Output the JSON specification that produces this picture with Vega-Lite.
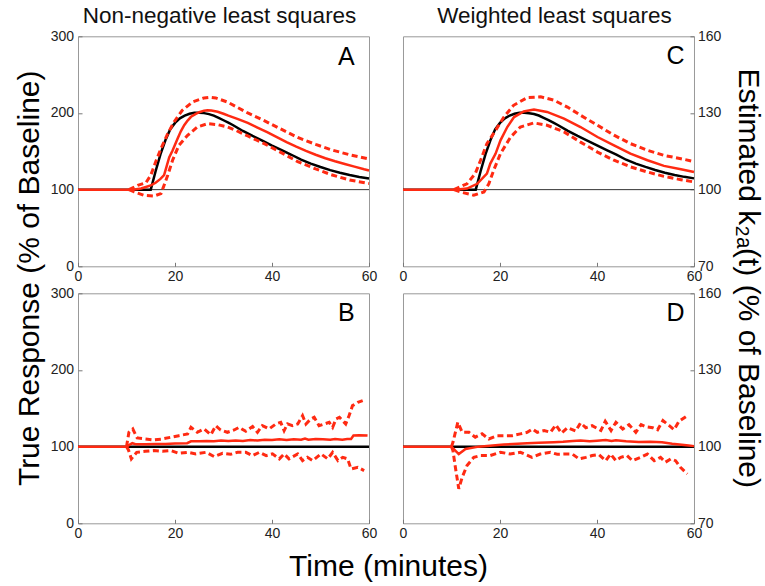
{
"$schema":"https://vega.github.io/schema/vega-lite/v6.json",
"background":"white",
"padding":{"left":13,"top":4.3,"right":5,"bottom":5},
"bounds":"flush",
"columns":2,
"spacing":{"row":27,"column":34},
"datasets":{
"A":[
{"t":0,"v":100,"s":"true"},{"t":15,"v":100,"s":"true"},{"t":16,"v":124,"s":"true"},{"t":17,"v":146,"s":"true"},{"t":18,"v":164,"s":"true"},{"t":19,"v":178.5,"s":"true"},{"t":20,"v":187,"s":"true"},{"t":21,"v":193,"s":"true"},{"t":22,"v":196.5,"s":"true"},{"t":23,"v":199,"s":"true"},{"t":24,"v":200.2,"s":"true"},{"t":25,"v":200.4,"s":"true"},{"t":26,"v":199.8,"s":"true"},{"t":27,"v":198.5,"s":"true"},{"t":28,"v":196.5,"s":"true"},{"t":29,"v":193.7,"s":"true"},{"t":30,"v":190.5,"s":"true"},{"t":31,"v":187.3,"s":"true"},{"t":32,"v":184,"s":"true"},{"t":34,"v":176.5,"s":"true"},{"t":36,"v":170,"s":"true"},{"t":38,"v":164,"s":"true"},{"t":40,"v":157.5,"s":"true"},{"t":42,"v":151.5,"s":"true"},{"t":44,"v":145.5,"s":"true"},{"t":46,"v":139,"s":"true"},{"t":48,"v":134,"s":"true"},{"t":50,"v":129.5,"s":"true"},{"t":52,"v":125.5,"s":"true"},{"t":54,"v":122,"s":"true"},{"t":56,"v":119,"s":"true"},{"t":58,"v":116.5,"s":"true"},{"t":60,"v":114.5,"s":"true"},
{"t":0,"v":100,"s":"est"},{"t":10.5,"v":100,"s":"est"},{"t":12,"v":100.5,"s":"est"},{"t":13,"v":101.5,"s":"est"},{"t":14,"v":103.5,"s":"est"},{"t":15,"v":105.6,"s":"est"},{"t":16,"v":109,"s":"est"},{"t":17,"v":114,"s":"est"},{"t":17.75,"v":119,"s":"est"},{"t":18.3,"v":131,"s":"est"},{"t":18.8,"v":142,"s":"est"},{"t":19.5,"v":151,"s":"est"},{"t":20.5,"v":166,"s":"est"},{"t":21.2,"v":176,"s":"est"},{"t":21.9,"v":184,"s":"est"},{"t":22.6,"v":190,"s":"est"},{"t":23.3,"v":195,"s":"est"},{"t":24.2,"v":198.5,"s":"est"},{"t":25,"v":201,"s":"est"},{"t":26,"v":203,"s":"est"},{"t":26.7,"v":203.5,"s":"est"},{"t":27.5,"v":203.2,"s":"est"},{"t":28.8,"v":201.5,"s":"est"},{"t":30,"v":199,"s":"est"},{"t":31,"v":196.5,"s":"est"},{"t":33,"v":192,"s":"est"},{"t":35,"v":187,"s":"est"},{"t":37,"v":181,"s":"est"},{"t":39,"v":175,"s":"est"},{"t":41,"v":168.5,"s":"est"},{"t":43,"v":162,"s":"est"},{"t":45,"v":156,"s":"est"},{"t":47,"v":150.5,"s":"est"},{"t":49,"v":145.5,"s":"est"},{"t":51,"v":141,"s":"est"},{"t":53,"v":137,"s":"est"},{"t":55,"v":133.5,"s":"est"},{"t":57,"v":130,"s":"est"},{"t":59,"v":126.5,"s":"est"},{"t":60,"v":125,"s":"est"},
{"t":10.5,"v":100,"s":"hi"},{"t":12.3,"v":105.6,"s":"hi"},{"t":14,"v":109,"s":"hi"},{"t":15,"v":118.7,"s":"hi"},{"t":16,"v":136,"s":"hi"},{"t":17.1,"v":153.5,"s":"hi"},{"t":18.5,"v":173,"s":"hi"},{"t":19.8,"v":188.3,"s":"hi"},{"t":21.5,"v":203.5,"s":"hi"},{"t":23.6,"v":214.3,"s":"hi"},{"t":26,"v":219.6,"s":"hi"},{"t":27.2,"v":220.5,"s":"hi"},{"t":28.4,"v":219.6,"s":"hi"},{"t":30.8,"v":214.3,"s":"hi"},{"t":32.5,"v":208.5,"s":"hi"},{"t":35,"v":200,"s":"hi"},{"t":38.4,"v":190,"s":"hi"},{"t":42,"v":178.5,"s":"hi"},{"t":45.3,"v":168,"s":"hi"},{"t":49,"v":159,"s":"hi"},{"t":52.2,"v":152,"s":"hi"},{"t":56,"v":145.5,"s":"hi"},{"t":60,"v":140,"s":"hi"},
{"t":10.5,"v":100,"s":"lo"},{"t":11.6,"v":97,"s":"lo"},{"t":13.6,"v":92.6,"s":"lo"},{"t":15.7,"v":91.7,"s":"lo"},{"t":17.1,"v":94.8,"s":"lo"},{"t":17.75,"v":105.6,"s":"lo"},{"t":18.5,"v":118.7,"s":"lo"},{"t":19.5,"v":138.3,"s":"lo"},{"t":20.8,"v":157.8,"s":"lo"},{"t":22.6,"v":170.9,"s":"lo"},{"t":24.6,"v":181.7,"s":"lo"},{"t":26.7,"v":186,"s":"lo"},{"t":28.8,"v":184.8,"s":"lo"},{"t":30.8,"v":181.7,"s":"lo"},{"t":32.5,"v":177.4,"s":"lo"},{"t":35,"v":170,"s":"lo"},{"t":38.4,"v":160,"s":"lo"},{"t":42,"v":148,"s":"lo"},{"t":45.3,"v":136.5,"s":"lo"},{"t":49,"v":127,"s":"lo"},{"t":52.2,"v":119.5,"s":"lo"},{"t":56,"v":112.5,"s":"lo"},{"t":60,"v":108,"s":"lo"}
],
"B":[
{"t":0,"v":100,"s":"true"},{"t":60,"v":100,"s":"true"},
{"t":0,"v":100,"s":"est"},{"t":10,"v":100,"s":"est"},{"t":10.5,"v":102,"s":"est"},{"t":11.2,"v":104.5,"s":"est"},{"t":12,"v":103,"s":"est"},{"t":14,"v":103,"s":"est"},{"t":16,"v":103.5,"s":"est"},{"t":18,"v":103.5,"s":"est"},{"t":20,"v":104,"s":"est"},{"t":22.5,"v":104.5,"s":"est"},{"t":23.3,"v":107,"s":"est"},{"t":25,"v":107,"s":"est"},{"t":26.5,"v":107.5,"s":"est"},{"t":28,"v":107,"s":"est"},{"t":29.5,"v":108,"s":"est"},{"t":31,"v":107.5,"s":"est"},{"t":32.5,"v":108,"s":"est"},{"t":34,"v":107.5,"s":"est"},{"t":35.5,"v":108.5,"s":"est"},{"t":37,"v":108,"s":"est"},{"t":38.5,"v":109,"s":"est"},{"t":40,"v":108.5,"s":"est"},{"t":41.5,"v":109.5,"s":"est"},{"t":43,"v":108.5,"s":"est"},{"t":44.5,"v":109.5,"s":"est"},{"t":46,"v":109,"s":"est"},{"t":46.8,"v":110.5,"s":"est"},{"t":47.5,"v":109,"s":"est"},{"t":49,"v":110,"s":"est"},{"t":50.5,"v":109.5,"s":"est"},{"t":52,"v":109,"s":"est"},{"t":53,"v":110,"s":"est"},{"t":54.5,"v":109,"s":"est"},{"t":55.5,"v":110,"s":"est"},{"t":56.3,"v":110,"s":"est"},{"t":56.8,"v":114.5,"s":"est"},{"t":58,"v":115,"s":"est"},{"t":59.7,"v":114.5,"s":"est"},
{"t":10,"v":100,"s":"hi"},{"t":10.5,"v":118.7,"s":"hi"},{"t":11.3,"v":123,"s":"hi"},{"t":12.2,"v":111.3,"s":"hi"},{"t":13.9,"v":110,"s":"hi"},{"t":15.6,"v":108.7,"s":"hi"},{"t":17.4,"v":110,"s":"hi"},{"t":19.1,"v":112.2,"s":"hi"},{"t":20.8,"v":114.3,"s":"hi"},{"t":22.6,"v":116.5,"s":"hi"},{"t":23.3,"v":125.2,"s":"hi"},{"t":24.6,"v":118.7,"s":"hi"},{"t":26,"v":123,"s":"hi"},{"t":27.4,"v":115.6,"s":"hi"},{"t":28.4,"v":127.4,"s":"hi"},{"t":29.4,"v":121.7,"s":"hi"},{"t":30.8,"v":118.7,"s":"hi"},{"t":32.2,"v":121.7,"s":"hi"},{"t":33.2,"v":125.2,"s":"hi"},{"t":34.6,"v":120,"s":"hi"},{"t":36,"v":126.1,"s":"hi"},{"t":37,"v":118.7,"s":"hi"},{"t":38,"v":127.4,"s":"hi"},{"t":39.4,"v":123.1,"s":"hi"},{"t":40.8,"v":129.6,"s":"hi"},{"t":41.8,"v":131.7,"s":"hi"},{"t":42.5,"v":120.9,"s":"hi"},{"t":43.2,"v":129.6,"s":"hi"},{"t":44.2,"v":127.4,"s":"hi"},{"t":45.3,"v":129.6,"s":"hi"},{"t":46.3,"v":140.5,"s":"hi"},{"t":47,"v":129.6,"s":"hi"},{"t":48,"v":136.1,"s":"hi"},{"t":48.7,"v":138.3,"s":"hi"},{"t":49.7,"v":127.4,"s":"hi"},{"t":50.8,"v":129.6,"s":"hi"},{"t":51.8,"v":131.7,"s":"hi"},{"t":52.5,"v":125.2,"s":"hi"},{"t":53.2,"v":136.1,"s":"hi"},{"t":53.9,"v":138.3,"s":"hi"},{"t":55.2,"v":129.6,"s":"hi"},{"t":55.9,"v":140.5,"s":"hi"},{"t":56.6,"v":153.5,"s":"hi"},{"t":57.7,"v":157.8,"s":"hi"},{"t":58.7,"v":160,"s":"hi"},
{"t":10,"v":100,"s":"lo"},{"t":10.4,"v":95.7,"s":"lo"},{"t":11,"v":84,"s":"lo"},{"t":12.1,"v":92.6,"s":"lo"},{"t":13.9,"v":93.9,"s":"lo"},{"t":15.6,"v":94.8,"s":"lo"},{"t":17.4,"v":93.9,"s":"lo"},{"t":19.2,"v":94.8,"s":"lo"},{"t":20.8,"v":91.3,"s":"lo"},{"t":22.6,"v":92.6,"s":"lo"},{"t":24.3,"v":90.5,"s":"lo"},{"t":26.4,"v":92.6,"s":"lo"},{"t":28.1,"v":86.9,"s":"lo"},{"t":29.8,"v":91.3,"s":"lo"},{"t":31.5,"v":90,"s":"lo"},{"t":32.9,"v":92.6,"s":"lo"},{"t":34.6,"v":92.6,"s":"lo"},{"t":36,"v":88.3,"s":"lo"},{"t":37.4,"v":92.6,"s":"lo"},{"t":38.8,"v":88.3,"s":"lo"},{"t":40.1,"v":90.5,"s":"lo"},{"t":41.5,"v":84,"s":"lo"},{"t":42.5,"v":90.5,"s":"lo"},{"t":43.5,"v":84,"s":"lo"},{"t":45.3,"v":90.5,"s":"lo"},{"t":46.3,"v":81.8,"s":"lo"},{"t":47.3,"v":86.1,"s":"lo"},{"t":48.4,"v":81.8,"s":"lo"},{"t":50.1,"v":90.5,"s":"lo"},{"t":51.5,"v":84,"s":"lo"},{"t":52.5,"v":92.6,"s":"lo"},{"t":53.6,"v":81.8,"s":"lo"},{"t":54.6,"v":86.1,"s":"lo"},{"t":55.6,"v":84,"s":"lo"},{"t":56.3,"v":70.9,"s":"lo"},{"t":57.7,"v":73.1,"s":"lo"},{"t":59,"v":68.7,"s":"lo"}
],
"C":[
{"t":0,"v":100,"s":"true"},{"t":15,"v":100,"s":"true"},{"t":16,"v":107.2,"s":"true"},{"t":17,"v":113.8,"s":"true"},{"t":18,"v":119.2,"s":"true"},{"t":19,"v":123.6,"s":"true"},{"t":20,"v":126.1,"s":"true"},{"t":21,"v":127.9,"s":"true"},{"t":22,"v":129,"s":"true"},{"t":23,"v":129.7,"s":"true"},{"t":24,"v":130.1,"s":"true"},{"t":25,"v":130.1,"s":"true"},{"t":26,"v":129.9,"s":"true"},{"t":27,"v":129.6,"s":"true"},{"t":28,"v":129,"s":"true"},{"t":29,"v":128.1,"s":"true"},{"t":30,"v":127.2,"s":"true"},{"t":31,"v":126.2,"s":"true"},{"t":32,"v":125.2,"s":"true"},{"t":34,"v":123,"s":"true"},{"t":36,"v":121,"s":"true"},{"t":38,"v":119.2,"s":"true"},{"t":40,"v":117.3,"s":"true"},{"t":42,"v":115.5,"s":"true"},{"t":44,"v":113.7,"s":"true"},{"t":46,"v":111.7,"s":"true"},{"t":48,"v":110.2,"s":"true"},{"t":50,"v":108.9,"s":"true"},{"t":52,"v":107.7,"s":"true"},{"t":54,"v":106.6,"s":"true"},{"t":56,"v":105.7,"s":"true"},{"t":58,"v":105,"s":"true"},{"t":60,"v":104.4,"s":"true"},
{"t":0,"v":100,"s":"est"},{"t":10.8,"v":100,"s":"est"},{"t":13.2,"v":100.4,"s":"est"},{"t":15.3,"v":102.3,"s":"est"},{"t":17.3,"v":106.3,"s":"est"},{"t":18,"v":110.2,"s":"est"},{"t":19.1,"v":114.1,"s":"est"},{"t":20.1,"v":119.3,"s":"est"},{"t":21.5,"v":124.5,"s":"est"},{"t":22.9,"v":128.4,"s":"est"},{"t":24.9,"v":130.6,"s":"est"},{"t":27,"v":131.3,"s":"est"},{"t":29.7,"v":130.4,"s":"est"},{"t":33.2,"v":127.8,"s":"est"},{"t":36.6,"v":124.5,"s":"est"},{"t":40.1,"v":120.6,"s":"est"},{"t":43.5,"v":117.3,"s":"est"},{"t":46.9,"v":114.1,"s":"est"},{"t":50.4,"v":111.5,"s":"est"},{"t":53.8,"v":109.3,"s":"est"},{"t":57.3,"v":108,"s":"est"},{"t":60,"v":106.9,"s":"est"},
{"t":10.5,"v":100,"s":"hi"},{"t":13.2,"v":102.3,"s":"hi"},{"t":14.9,"v":106.3,"s":"hi"},{"t":16,"v":111.5,"s":"hi"},{"t":17.3,"v":118,"s":"hi"},{"t":19.1,"v":123.2,"s":"hi"},{"t":20.8,"v":128.4,"s":"hi"},{"t":22.8,"v":133,"s":"hi"},{"t":25.6,"v":136,"s":"hi"},{"t":28.4,"v":136.3,"s":"hi"},{"t":31.1,"v":135,"s":"hi"},{"t":33.9,"v":132.3,"s":"hi"},{"t":36.6,"v":129.1,"s":"hi"},{"t":40.1,"v":125.2,"s":"hi"},{"t":43.5,"v":121.3,"s":"hi"},{"t":46.9,"v":118,"s":"hi"},{"t":50.4,"v":115.4,"s":"hi"},{"t":53.8,"v":113.4,"s":"hi"},{"t":57.3,"v":112.1,"s":"hi"},{"t":60,"v":111,"s":"hi"},
{"t":10.5,"v":100,"s":"lo"},{"t":11.8,"v":99.1,"s":"lo"},{"t":14.6,"v":97.8,"s":"lo"},{"t":16.7,"v":99.1,"s":"lo"},{"t":17.7,"v":102.3,"s":"lo"},{"t":18.7,"v":107.6,"s":"lo"},{"t":20.1,"v":114.1,"s":"lo"},{"t":22.2,"v":120.6,"s":"lo"},{"t":24.2,"v":124.5,"s":"lo"},{"t":27,"v":126.1,"s":"lo"},{"t":29.7,"v":125.2,"s":"lo"},{"t":33.2,"v":122.6,"s":"lo"},{"t":36.6,"v":118.6,"s":"lo"},{"t":40.1,"v":114.7,"s":"lo"},{"t":43.5,"v":111.5,"s":"lo"},{"t":46.9,"v":108.9,"s":"lo"},{"t":50.4,"v":106.9,"s":"lo"},{"t":53.8,"v":105.2,"s":"lo"},{"t":57.3,"v":103.9,"s":"lo"},{"t":60,"v":103,"s":"lo"}
],
"D":[
{"t":0,"v":100,"s":"true"},{"t":60,"v":100,"s":"true"},
{"t":0,"v":100,"s":"est"},{"t":10,"v":100,"s":"est"},{"t":11.5,"v":97.1,"s":"est"},{"t":12.9,"v":99.1,"s":"est"},{"t":15.6,"v":100,"s":"est"},{"t":20.8,"v":100.8,"s":"est"},{"t":25.6,"v":101.3,"s":"est"},{"t":28,"v":101.5,"s":"est"},{"t":31.1,"v":101.7,"s":"est"},{"t":33,"v":101.9,"s":"est"},{"t":35,"v":102.2,"s":"est"},{"t":36.6,"v":102.4,"s":"est"},{"t":38.5,"v":102.1,"s":"est"},{"t":40,"v":102.3,"s":"est"},{"t":41.8,"v":102.6,"s":"est"},{"t":43,"v":102.2,"s":"est"},{"t":43.9,"v":102.5,"s":"est"},{"t":46,"v":102.1,"s":"est"},{"t":48.6,"v":101.8,"s":"est"},{"t":51,"v":101.9,"s":"est"},{"t":53.4,"v":101.7,"s":"est"},{"t":55.5,"v":101.1,"s":"est"},{"t":57,"v":100.8,"s":"est"},{"t":58.9,"v":100.4,"s":"est"},{"t":60,"v":100.2,"s":"est"},
{"t":10,"v":100,"s":"hi"},{"t":10.3,"v":101.7,"s":"hi"},{"t":11.3,"v":109.5,"s":"hi"},{"t":12.2,"v":105.6,"s":"hi"},{"t":13.6,"v":105.6,"s":"hi"},{"t":14.9,"v":103.7,"s":"hi"},{"t":16.3,"v":105,"s":"hi"},{"t":17.7,"v":103,"s":"hi"},{"t":19.4,"v":104.3,"s":"hi"},{"t":21.1,"v":104.3,"s":"hi"},{"t":22.5,"v":104.3,"s":"hi"},{"t":24.2,"v":105,"s":"hi"},{"t":25.6,"v":105.6,"s":"hi"},{"t":26.7,"v":106.9,"s":"hi"},{"t":27.7,"v":105.6,"s":"hi"},{"t":29.1,"v":106.3,"s":"hi"},{"t":30.4,"v":105.6,"s":"hi"},{"t":31.5,"v":108.5,"s":"hi"},{"t":32.7,"v":105.3,"s":"hi"},{"t":33.9,"v":107.4,"s":"hi"},{"t":35.6,"v":106.1,"s":"hi"},{"t":36.6,"v":109.3,"s":"hi"},{"t":37.7,"v":107.4,"s":"hi"},{"t":39,"v":108.2,"s":"hi"},{"t":40.8,"v":106.3,"s":"hi"},{"t":41.7,"v":109.9,"s":"hi"},{"t":42.9,"v":106.3,"s":"hi"},{"t":43.9,"v":109.5,"s":"hi"},{"t":45.3,"v":106.9,"s":"hi"},{"t":46.6,"v":108.6,"s":"hi"},{"t":48,"v":105.6,"s":"hi"},{"t":49.1,"v":108.6,"s":"hi"},{"t":50.1,"v":107.8,"s":"hi"},{"t":51.5,"v":107.4,"s":"hi"},{"t":52.5,"v":106.6,"s":"hi"},{"t":53.6,"v":110.2,"s":"hi"},{"t":54.9,"v":108.2,"s":"hi"},{"t":55.9,"v":106.6,"s":"hi"},{"t":56.9,"v":109.9,"s":"hi"},{"t":58.6,"v":112.1,"s":"hi"},
{"t":10,"v":100,"s":"lo"},{"t":10.3,"v":98.4,"s":"lo"},{"t":10.8,"v":91.9,"s":"lo"},{"t":11.5,"v":83.5,"s":"lo"},{"t":12.2,"v":88,"s":"lo"},{"t":13.2,"v":92.6,"s":"lo"},{"t":14.6,"v":95.8,"s":"lo"},{"t":16,"v":96.5,"s":"lo"},{"t":18,"v":96.5,"s":"lo"},{"t":20.1,"v":97.8,"s":"lo"},{"t":22.1,"v":97.1,"s":"lo"},{"t":24.2,"v":97.8,"s":"lo"},{"t":26.6,"v":95.8,"s":"lo"},{"t":28.3,"v":97.1,"s":"lo"},{"t":30.4,"v":97.8,"s":"lo"},{"t":31.8,"v":97,"s":"lo"},{"t":33.3,"v":97.1,"s":"lo"},{"t":34.9,"v":97.1,"s":"lo"},{"t":36.3,"v":95.2,"s":"lo"},{"t":37.7,"v":95.8,"s":"lo"},{"t":39,"v":96.5,"s":"lo"},{"t":40.4,"v":96.9,"s":"lo"},{"t":41.8,"v":94.5,"s":"lo"},{"t":42.8,"v":97.1,"s":"lo"},{"t":43.9,"v":94.5,"s":"lo"},{"t":44.9,"v":95.8,"s":"lo"},{"t":46.2,"v":96.5,"s":"lo"},{"t":47.3,"v":94.5,"s":"lo"},{"t":49,"v":95.8,"s":"lo"},{"t":50.4,"v":97.1,"s":"lo"},{"t":51.8,"v":94.5,"s":"lo"},{"t":53.1,"v":95.8,"s":"lo"},{"t":54.1,"v":93.9,"s":"lo"},{"t":55.2,"v":95.2,"s":"lo"},{"t":56.2,"v":94.5,"s":"lo"},{"t":57.2,"v":91.9,"s":"lo"},{"t":58.6,"v":89.3,"s":"lo"}
]
},
"concat":[
{
"width":291,"height":230,
"title":{"text":"Non-negative least squares","dx":-4},
"data":{"name":"A"},
"layer":[
{"data":{"values":[{}]},"mark":{"type":"rule","color":"#333","strokeWidth":1},"encoding":{"y":{"datum":100,"type":"quantitative","scale":{"domain":[0,300],"nice":false,"zero":false}}}},
{"transform":[{"filter":"datum.s==='true'"}],"mark":{"type":"line","color":"#000","strokeWidth":2.5},"encoding":{
"x":{"field":"t","type":"quantitative","scale":{"domain":[0,60],"nice":false,"zero":false},"axis":{"values":[0,20,40,60],"title":null}},
"y":{"field":"v","type":"quantitative","scale":{"domain":[0,300],"nice":false,"zero":false},"axis":{"values":[0,100,200,300],"title":"True Response (% of Baseline)","titleAngle":-90,"titleAlign":"center","titleBaseline":"alphabetic","titleX":-40,"titleY":241.5}}}},
{"transform":[{"filter":"datum.s==='lo'||datum.s==='hi'"}],"mark":{"type":"line","color":"#ff2a12","strokeWidth":3,"strokeDash":[6,3.5]},"encoding":{"x":{"field":"t","type":"quantitative"},"y":{"field":"v","type":"quantitative"},"detail":{"field":"s"}}},
{"transform":[{"filter":"datum.s==='est'"}],"mark":{"type":"line","color":"#ff2a12","strokeWidth":2.5},"encoding":{"x":{"field":"t","type":"quantitative"},"y":{"field":"v","type":"quantitative"}}},
{"data":{"values":[{}]},"mark":{"type":"text","text":"A","fontSize":25,"font":"Liberation Sans","align":"center","baseline":"alphabetic","color":"#000"},"encoding":{"x":{"datum":55.3,"type":"quantitative"},"y":{"datum":262,"type":"quantitative"}}}
]
},
{
"width":291,"height":230,
"title":{"text":"Weighted least squares","dx":6},
"data":{"name":"C"},
"layer":[
{"data":{"values":[{}]},"mark":{"type":"rule","color":"#333","strokeWidth":1},"encoding":{"y":{"datum":100,"type":"quantitative","scale":{"domain":[70,160],"nice":false,"zero":false}}}},
{"transform":[{"filter":"datum.s==='true'"}],"mark":{"type":"line","color":"#000","strokeWidth":2.5},"encoding":{
"x":{"field":"t","type":"quantitative","scale":{"domain":[0,60],"nice":false,"zero":false},"axis":{"values":[0,20,40,60],"title":null}},
"y":{"field":"v","type":"quantitative","scale":{"domain":[70,160],"nice":false,"zero":false},"axis":{"orient":"right","values":[70,100,130,160],"labelPadding":7.5,"title":"Estimated k₂ₐ(t) (% of Baseline)","titleAngle":90,"titleAlign":"center","titleBaseline":"alphabetic","titleX":45,"titleY":241.5}}}},
{"transform":[{"filter":"datum.s==='lo'||datum.s==='hi'"}],"mark":{"type":"line","color":"#ff2a12","strokeWidth":3,"strokeDash":[6,3.5]},"encoding":{"x":{"field":"t","type":"quantitative"},"y":{"field":"v","type":"quantitative"},"detail":{"field":"s"}}},
{"transform":[{"filter":"datum.s==='est'"}],"mark":{"type":"line","color":"#ff2a12","strokeWidth":2.5},"encoding":{"x":{"field":"t","type":"quantitative"},"y":{"field":"v","type":"quantitative"}}},
{"data":{"values":[{}]},"mark":{"type":"text","text":"C","fontSize":25,"font":"Liberation Sans","align":"center","baseline":"alphabetic","color":"#000"},"encoding":{"x":{"datum":56.2,"type":"quantitative"},"y":{"datum":149.3,"type":"quantitative"}}}
]
},
{
"width":291,"height":230,
"data":{"name":"B"},
"layer":[
{"transform":[{"filter":"datum.s==='true'"}],"mark":{"type":"line","color":"#000","strokeWidth":2.5},"encoding":{
"x":{"field":"t","type":"quantitative","scale":{"domain":[0,60],"nice":false,"zero":false},"axis":{"values":[0,20,40,60],"title":"Time (minutes)","titleAlign":"center","titleBaseline":"alphabetic","titleX":310,"titleY":52.5}},
"y":{"field":"v","type":"quantitative","scale":{"domain":[0,300],"nice":false,"zero":false},"axis":{"values":[0,100,200,300],"title":null}}}},
{"transform":[{"filter":"datum.s==='lo'||datum.s==='hi'"}],"mark":{"type":"line","color":"#ff2a12","strokeWidth":3,"strokeDash":[6,3.5]},"encoding":{"x":{"field":"t","type":"quantitative"},"y":{"field":"v","type":"quantitative"},"detail":{"field":"s"}}},
{"transform":[{"filter":"datum.s==='est'"}],"mark":{"type":"line","color":"#ff2a12","strokeWidth":2.5},"encoding":{"x":{"field":"t","type":"quantitative"},"y":{"field":"v","type":"quantitative"}}},
{"data":{"values":[{}]},"mark":{"type":"text","text":"B","fontSize":25,"font":"Liberation Sans","align":"center","baseline":"alphabetic","color":"#000"},"encoding":{"x":{"datum":55.3,"type":"quantitative"},"y":{"datum":263.5,"type":"quantitative"}}}
]
},
{
"width":291,"height":230,
"data":{"name":"D"},
"layer":[
{"transform":[{"filter":"datum.s==='true'"}],"mark":{"type":"line","color":"#000","strokeWidth":2.5},"encoding":{
"x":{"field":"t","type":"quantitative","scale":{"domain":[0,60],"nice":false,"zero":false},"axis":{"values":[0,20,40,60],"title":null}},
"y":{"field":"v","type":"quantitative","scale":{"domain":[70,160],"nice":false,"zero":false},"axis":{"orient":"right","values":[70,100,130,160],"labelPadding":7.5,"title":null}}}},
{"transform":[{"filter":"datum.s==='lo'||datum.s==='hi'"}],"mark":{"type":"line","color":"#ff2a12","strokeWidth":3,"strokeDash":[6,3.5]},"encoding":{"x":{"field":"t","type":"quantitative"},"y":{"field":"v","type":"quantitative"},"detail":{"field":"s"}}},
{"transform":[{"filter":"datum.s==='est'"}],"mark":{"type":"line","color":"#ff2a12","strokeWidth":2.5},"encoding":{"x":{"field":"t","type":"quantitative"},"y":{"field":"v","type":"quantitative"}}},
{"data":{"values":[{}]},"mark":{"type":"text","text":"D","fontSize":25,"font":"Liberation Sans","align":"center","baseline":"alphabetic","color":"#000"},"encoding":{"x":{"datum":56.2,"type":"quantitative"},"y":{"datum":149.3,"type":"quantitative"}}}
]
}
],
"config":{
"view":{"stroke":"#999","strokeWidth":1},
"axis":{"grid":false,"domain":false,"labelFont":"Liberation Sans","labelFontSize":14,"labelColor":"#222","tickColor":"#777","tickSize":-4,"labelPadding":8.5,"labelFlush":false,"labelOverlap":false,"titleFont":"Liberation Sans, DejaVu Sans","titleFontSize":30,"titleFontWeight":"normal","titleColor":"#000"},
"axisX":{"labelPadding":7},
"title":{"font":"Liberation Sans","fontSize":22.5,"fontWeight":"normal","color":"#111","frame":"group","anchor":"middle","baseline":"alphabetic","offset":1.4}
}
}
